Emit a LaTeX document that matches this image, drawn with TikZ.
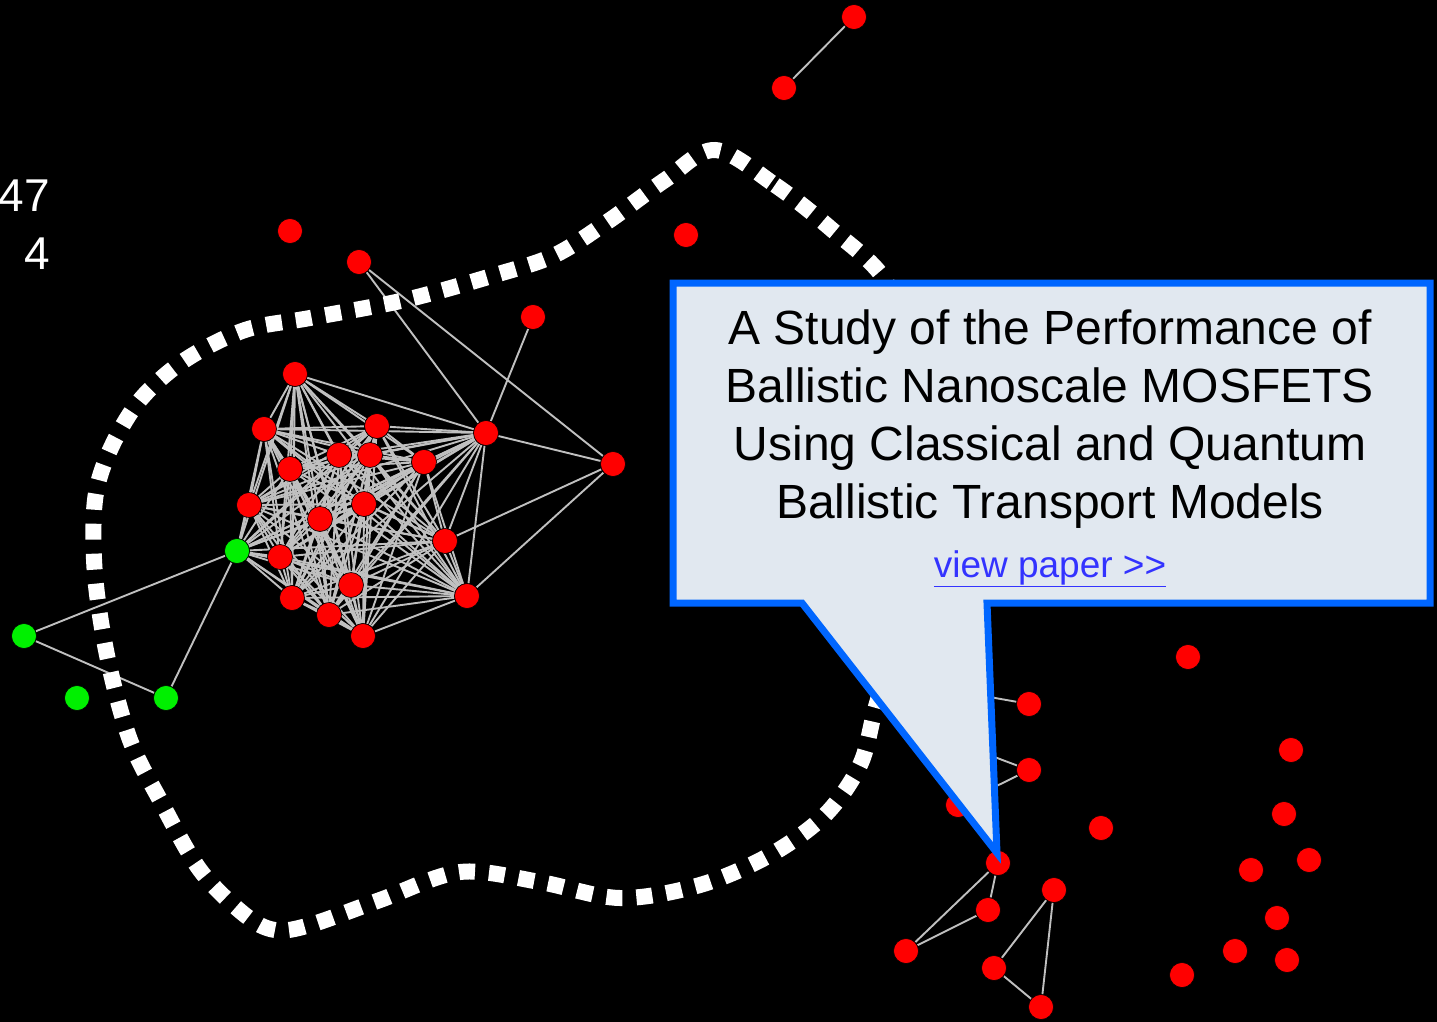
\documentclass[tikz,border=0pt]{standalone}
\usepackage{fontspec}
\setmainfont{Liberation Sans}
\definecolor{edgegray}{HTML}{C0C0C0}
\definecolor{calloutfill}{HTML}{E1E8F0}
\definecolor{calloutblue}{HTML}{0066FF}
\definecolor{linkblue}{HTML}{3333FF}
\definecolor{vred}{HTML}{FF0000}
\definecolor{vgreen}{HTML}{00F000}
\pgfdeclarelayer{bg}
\pgfdeclarelayer{edges}
\pgfsetlayers{bg,edges,main}
\begin{document}
\begin{tikzpicture}[x=1pt,y=-1pt,
  vertex/.style={circle,draw=black,line width=0.6pt,inner sep=0pt,minimum size=25pt},
  redv/.style={vertex,fill=vred},
  greenv/.style={vertex,fill=vgreen},
  link/.style={draw=edgegray,line width=1.9pt},
  loop/.style={draw=white,line width=16pt,dash pattern=on 16pt off 14pt,line cap=butt},
  callout/.style={draw=calloutblue,fill=calloutfill,line width=7pt,line join=miter},
  label/.style={text=white,font=\fontsize{46}{46}\selectfont,inner sep=0pt}]

\useasboundingbox (0,0) rectangle (1437,1022);
\begin{pgfonlayer}{bg}
  \fill[black] (0,0) rectangle (1437,1022);
\end{pgfonlayer}

% side labels
\node[label,anchor=base east] (lab47) at (50,211) {47};
\node[label,anchor=base east] (lab4) at (50,269) {4};

% dense cluster: k1..k17, hub k18, green k19
\node[redv] (k1) at (295,374) {};
\node[redv] (k2) at (264,429) {};
\node[redv] (k3) at (377,426) {};
\node[redv] (k4) at (339,455) {};
\node[redv] (k5) at (370,455) {};
\node[redv] (k6) at (424,462) {};
\node[redv] (k7) at (290,469) {};
\node[redv] (k8) at (249,505) {};
\node[redv] (k9) at (364,504) {};
\node[redv] (k10) at (320,519) {};
\node[redv] (k11) at (445,541) {};
\node[redv] (k12) at (280,557) {};
\node[redv] (k13) at (351,585) {};
\node[redv] (k14) at (292,598) {};
\node[redv] (k15) at (329,615) {};
\node[redv] (k16) at (363,636) {};
\node[redv] (k17) at (467,596) {};
\node[redv] (k18) at (486,433) {};
\node[greenv] (k19) at (237,551) {};

% upper vertices
\node[redv] (t1) at (854,17) {};
\node[redv] (t2) at (784,88) {};
\node[redv] (t3) at (686,235) {};
\node[redv] (t4) at (290,231) {};
\node[redv] (t5) at (359,262) {};
\node[redv] (t6) at (533,317) {};
\node[redv] (t7) at (613,464) {};

% green vertices on the left
\node[greenv] (g1) at (24,636) {};
\node[greenv] (g2) at (77,698) {};
\node[greenv] (g3) at (166,698) {};

% lower right vertices
\node[redv] (r1) at (1029,704) {};
\node[redv] (r2) at (1029,770) {};
\node[redv] (r3) at (958,805) {};
\node[redv] (r4) at (1101,828) {};
\node[redv] (r5) at (1188,657) {};
\node[redv] (r6) at (1291,750) {};
\node[redv] (r7) at (1284,814) {};
\node[redv] (r8) at (1309,860) {};
\node[redv] (r9) at (1251,870) {};
\node[redv] (r10) at (1277,918) {};
\node[redv] (r11) at (1235,951) {};
\node[redv] (r12) at (1287,960) {};
\node[redv] (r13) at (1182,975) {};
\node[redv] (r14) at (998,863) {};
\node[redv] (r15) at (988,910) {};
\node[redv] (r16) at (906,951) {};
\node[redv] (r17) at (1054,890) {};
\node[redv] (r18) at (994,968) {};
\node[redv] (r19) at (1041,1007) {};
\coordinate (h1) at (950,690);
\coordinate (h2) at (960,744);

\begin{pgfonlayer}{edges}
  % every pair inside the cluster
  \foreach \a in {1,...,19}{
    \foreach \b in {1,...,19}{
      \ifnum\b>\a \draw[link] (k\a) -- (k\b);\fi
    }
  }
  \draw[link] (t1) -- (t2);
  \draw[link] (t5) -- (k18);
  \draw[link] (t5) -- (t7);
  \draw[link] (t6) -- (k18);
  \draw[link] (k18) -- (t7);
  \draw[link] (t7) -- (k17);
  \draw[link] (t7) -- (k11);
  \draw[link] (k19) -- (g1);
  \draw[link] (k19) -- (g3);
  \draw[link] (g1) -- (g3);
  \draw[link] (r1) -- (h1);
  \draw[link] (r2) -- (h2);
  \draw[link] (r2) -- (r3);
  \draw[link] (r14) -- (r15);
  \draw[link] (r14) -- (r16);
  \draw[link] (r15) -- (r16);
  \draw[link] (r17) -- (r18);
  \draw[link] (r17) -- (r19);
  \draw[link] (r18) -- (r19);

  % dotted boundary loop
  \draw[loop] plot[smooth cycle,tension=0.55] coordinates {
    (715,150) (775,185) (830,228) (885,280) (915,360) (925,460)
    (915,560) (895,640) (875,710) (860,765) (825,815) (770,855)
    (700,885) (620,898) (540,882) (460,872) (380,900) (310,925)
    (275,930) (245,915) (200,870) (160,800) (130,740) (108,660)
    (95,575) (95,500) (110,450) (140,400) (185,360) (245,330)
    (310,318) (405,300) (495,275) (555,255) (610,220) (665,180)};
\end{pgfonlayer}

% speech bubble
\draw[callout] (673,283) -- (1430,283) -- (1430,603) -- (987,603)
  -- (997,853) -- (802,603) -- (673,603) -- cycle;
\node[inner sep=0pt,align=center,font=\fontsize{48}{58}\selectfont] (title) at (1050,419.5)
  {A Study of the Performance of\\Ballistic Nanoscale MOSFETS\\Using Classical and Quantum\\Ballistic Transport Models};
\node[inner sep=0pt,anchor=base,text=linkblue,font=\fontsize{37}{37}\selectfont] (paper) at (1050,577)
  {\underline{view paper \textgreater{}\textgreater}};
\end{tikzpicture}
\end{document}
